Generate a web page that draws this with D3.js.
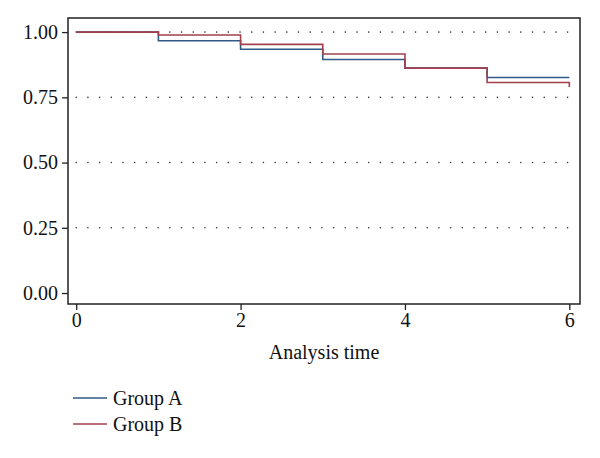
<!DOCTYPE html>
<html>
<head>
<meta charset="utf-8">
<script src="https://cdn.jsdelivr.net/npm/d3@7"></script>
<style>
  body { margin: 0; background: #fff; }
  svg text { font-family: "Liberation Serif", "DejaVu Serif", serif; fill: #111; }
</style>
</head>
<body>
<main></main>
<script>
// data
const times = [0, 1, 2, 3, 4, 5, 6];
const groupA = [1.000, 0.967, 0.934, 0.895, 0.862, 0.826, 0.826];
const groupB = [1.000, 0.989, 0.953, 0.916, 0.862, 0.807, 0.790];
const xTicks = [0, 2, 4, 6];
const yTicks = [0, 0.25, 0.5, 0.75, 1];
const seriesNames = ["Group A", "Group B"];
const seriesColors = ["#2f5a87", "#a3404c"];

function drawSurvival() {
	const width = 600;
	const height = 458;
	const frame = { left: 68, right: 580, top: 18, bottom: 304 };
	const fontSize = "20px";

	const svg = d3.select("main")
		.append("svg")
		.attr("width", width)
		.attr("height", height);

	const xScale = d3.scaleLinear()
		.domain([-0.1, 6.13])
		.range([frame.left, frame.right]);

	const yScale = d3.scaleLinear()
		.domain([-0.042, 1.054])
		.range([frame.bottom, frame.top]);

	// dotted grid
	svg.append("g")
		.selectAll("line")
		.data(yTicks.filter(d => d > 0))
		.join("line")
		.attr("x1", xScale(0))
		.attr("x2", xScale(6.05))
		.attr("y1", d => yScale(d))
		.attr("y2", d => yScale(d))
		.attr("stroke", "#333")
		.attr("stroke-width", 1.6)
		.attr("stroke-linecap", "round")
		.attr("stroke-dasharray", "0 11.7");

	// step lines
	const line = d3.line()
		.x(d => xScale(d[0]))
		.y(d => yScale(d[1]))
		.curve(d3.curveStepAfter);

	[groupA, groupB].forEach((s, i) => {
		svg.append("path")
			.datum(times.map((t, j) => [t, s[j]]))
			.attr("fill", "none")
			.attr("stroke", seriesColors[i])
			.attr("stroke-width", 1.6)
			.attr("d", line);
	});

	// frame
	svg.append("rect")
		.attr("x", frame.left)
		.attr("y", frame.top)
		.attr("width", frame.right - frame.left)
		.attr("height", frame.bottom - frame.top)
		.attr("fill", "none")
		.attr("stroke", "#222")
		.attr("stroke-width", 1.5);

	// axes
	const xAxis = svg.append("g")
		.attr("transform", `translate(0,${frame.bottom})`)
		.call(d3.axisBottom(xScale).tickValues(xTicks).tickSize(6).tickPadding(3).tickFormat(d3.format("d")));
	xAxis.select(".domain").remove();
	xAxis.selectAll("line").attr("stroke", "#222").attr("stroke-width", 1.3);
	xAxis.selectAll("text").style("font-size", fontSize);

	const yAxis = svg.append("g")
		.attr("transform", `translate(${frame.left},0)`)
		.call(d3.axisLeft(yScale).tickValues(yTicks).tickSize(6).tickPadding(4).tickFormat(d3.format(".2f")));
	yAxis.select(".domain").remove();
	yAxis.selectAll("line").attr("stroke", "#222").attr("stroke-width", 1.3);
	yAxis.selectAll("text").style("font-size", fontSize);

	svg.append("text")
		.attr("x", (frame.left + frame.right) / 2)
		.attr("y", 359)
		.attr("text-anchor", "middle")
		.style("font-size", fontSize)
		.text("Analysis time");

	// legend
	const legend = svg.append("g")
		.selectAll("g")
		.data(seriesNames)
		.join("g")
		.attr("transform", (d, i) => `translate(73,${398 + i * 26})`);
	legend.append("line")
		.attr("x1", 0).attr("x2", 34)
		.attr("stroke", (d, i) => seriesColors[i])
		.attr("stroke-width", 1.6);
	legend.append("text")
		.attr("x", 40)
		.attr("dy", "0.35em")
		.style("font-size", fontSize)
		.text(d => d);
}

drawSurvival();
</script>
</body>
</html>
